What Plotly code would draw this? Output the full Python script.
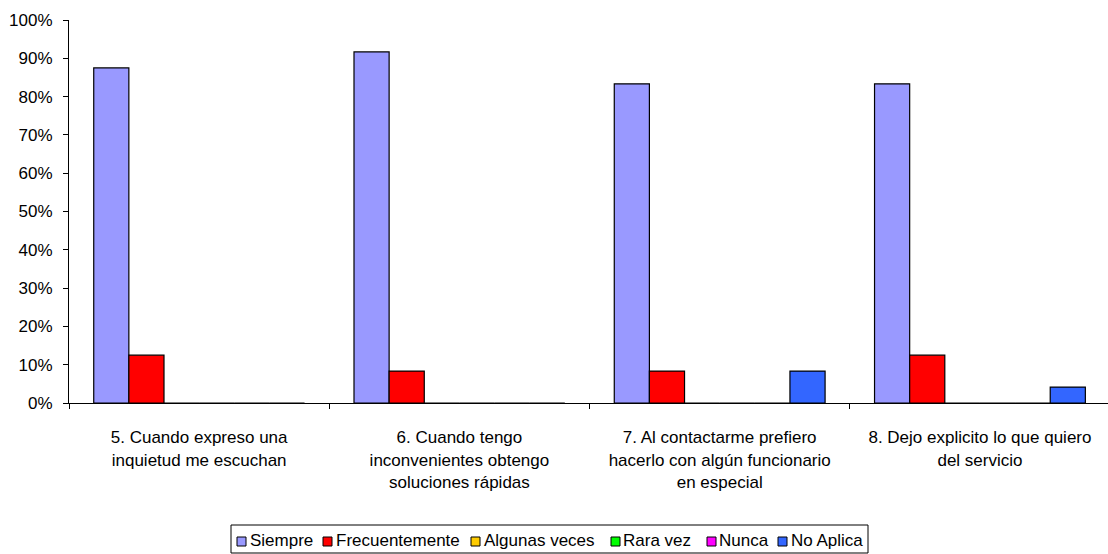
import plotly.graph_objects as go

# Survey questions (x categories)
categories = [
    "5. Cuando expreso una<br>inquietud me escuchan",
    "6. Cuando tengo<br>inconvenientes obtengo<br>soluciones rápidas",
    "7. Al contactarme prefiero<br>hacerlo con algún funcionario<br>en especial",
    "8. Dejo explicito lo que quiero<br>del servicio",
]

# Share of answers per option
siempre = [0.875, 0.9167, 0.8333, 0.8333]
frecuentemente = [0.125, 0.0833, 0.0833, 0.125]
algunas_veces = [0.0, 0.0, 0.0, 0.0]
rara_vez = [0.0, 0.0, 0.0, 0.0]
nunca = [0.0, 0.0, 0.0, 0.0]
no_aplica = [0.0, 0.0, 0.0833, 0.0417]

series_names = ["Siempre", "Frecuentemente", "Algunas veces", "Rara vez", "Nunca", "No Aplica"]
series_values = [siempre, frecuentemente, algunas_veces, rara_vez, nunca, no_aplica]
series_colors = ["#9999FF", "#FF0000", "#FFCC00", "#00FF00", "#FF00FF", "#3366FF"]

y_ticks = [i / 10 for i in range(11)]

FONT = "Arial, Liberation Sans, sans-serif"
FS = 17

W, H = 1108, 554
ML, MR, MT, MB = 69, 0, 20, 151
PW, PH = W - ML - MR, H - MT - MB


def px_x(px):
    return (px - ML) / PW


def px_y(py):
    return (H - MB - py) / PH


fig = go.Figure()
for name, vals, color in zip(series_names, series_values, series_colors):
    fig.add_trace(go.Bar(
        x=categories, y=vals, name=name,
        marker=dict(color=color, line=dict(color="black", width=1.2)),
        showlegend=False,
    ))

# Legend box drawn below the plot: swatch left edge and text start (px)
legend_pos = [(237, 249), (323, 335), (471, 483), (611, 622), (707, 718), (778, 790)]
shapes = [dict(type="rect", xref="paper", yref="paper",
               x0=px_x(231), x1=px_x(868), y0=px_y(553), y1=px_y(525),
               line=dict(color="black", width=1), fillcolor="white")]
annotations = []
for (sx, tx), name, color in zip(legend_pos, series_names, series_colors):
    shapes.append(dict(type="rect", xref="paper", yref="paper",
                       x0=px_x(sx), x1=px_x(sx + 9), y0=px_y(546), y1=px_y(537),
                       line=dict(color="black", width=1), fillcolor=color))
    annotations.append(dict(text=name, xref="paper", yref="paper",
                            x=px_x(tx - 1), y=px_y(540), xanchor="left", yanchor="middle",
                            showarrow=False, font=dict(family=FONT, size=FS, color="black")))

fig.update_layout(
    width=W, height=H,
    margin=dict(l=ML, r=MR, t=MT, b=MB),
    barmode="group", bargap=0.19, bargroupgap=0,
    plot_bgcolor="white", paper_bgcolor="white",
    font=dict(family=FONT, size=FS, color="black"),
    shapes=shapes, annotations=annotations,
    xaxis=dict(
        range=[-0.5, 3.492], showline=True, linecolor="black", linewidth=1,
        ticks="outside", tickson="boundaries", ticklen=5, tickcolor="black",
        ticklabelstandoff=19,
        showgrid=False, tickfont=dict(family=FONT, size=FS, color="black"),
    ),
    yaxis=dict(
        range=[0, 1], tickvals=y_ticks, tickformat=".0%",
        showline=True, linecolor="black", linewidth=1,
        ticks="outside", ticklen=5, tickcolor="black",
        ticklabelstandoff=7,
        showgrid=False, zeroline=False,
        tickfont=dict(family=FONT, size=FS, color="black"),
    ),
)

fig.write_html("out.html")
